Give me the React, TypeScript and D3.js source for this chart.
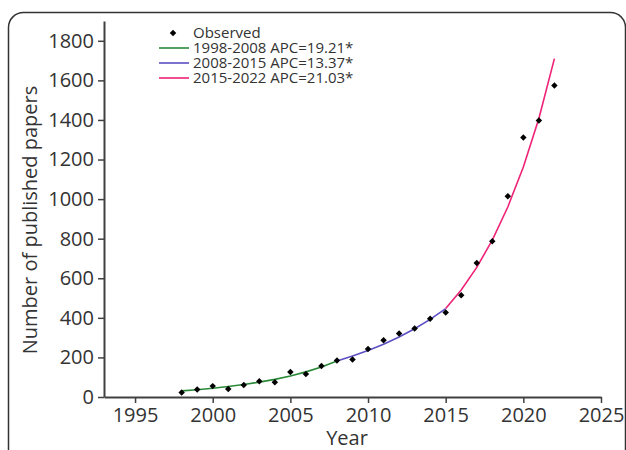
import React, { useRef, useEffect } from 'react';
import * as d3 from 'd3';

// observed counts per year
const years = [1998, 1999, 2000, 2001, 2002, 2003, 2004, 2005, 2006, 2007, 2008, 2009, 2010,
  2011, 2012, 2013, 2014, 2015, 2016, 2017, 2018, 2019, 2020, 2021, 2022];
const observed = [23, 38, 55, 41, 61, 80, 75, 126, 116, 157, 185, 190, 243,
  287, 321, 346, 395, 427, 514, 677, 787, 1015, 1311, 1397, 1574];

// joinpoint segments (fitted values)
const seg1Years = [1998, 1999, 2000, 2001, 2002, 2003, 2004, 2005, 2006, 2007, 2008];
const seg1Fit = [31, 37, 44, 53, 63, 75, 89, 106, 127, 152, 182];
const seg2Years = [2008, 2009, 2010, 2011, 2012, 2013, 2014, 2015];
const seg2Fit = [182, 207, 235, 267, 303, 345, 392, 447];
const seg3Years = [2015, 2016, 2017, 2018, 2019, 2020, 2021, 2022];
const seg3Fit = [447, 541, 655, 793, 960, 1162, 1407, 1710];

const segLabels = ['1998-2008 APC=19.21*', '2008-2015 APC=13.37*', '2015-2022 APC=21.03*'];
const segColors = ['#2a8a3a', '#5b4fc4', '#ee2277'];

const xTicks = [1995, 2000, 2005, 2010, 2015, 2020, 2025];
const yTicks = [0, 200, 400, 600, 800, 1000, 1200, 1400, 1600, 1800];

const W = 626;
const H = 450;
const FONT = '"Open Sans", "Noto Sans", sans-serif';

const App = () => {
  const svgRef = useRef(null);

  useEffect(() => {
    document.body.style.margin = '0';
    const svg = d3.select(svgRef.current);
    svg.selectAll('*').remove();

    const x = d3.scaleLinear().domain([1993, 2025]).range([104, 601]);
    const y = d3.scaleLinear().domain([0, 1900]).range([397, 21]);

    // outer frame
    svg.append('rect')
      .attr('x', 8.5).attr('y', 12.5)
      .attr('width', 617).attr('height', 480)
      .attr('rx', 15).attr('ry', 15)
      .attr('fill', 'none')
      .attr('stroke', '#333')
      .attr('stroke-width', 1.5);

    const xAxis = svg.append('g')
      .attr('transform', `translate(0,${y(0)})`)
      .call(d3.axisBottom(x).tickValues(xTicks).tickFormat(d3.format('d')).tickSize(6).tickSizeOuter(0).tickPadding(5));

    const yAxis = svg.append('g')
      .attr('transform', `translate(${x(1993)},0)`)
      .call(d3.axisLeft(y).tickValues(yTicks).tickFormat(d3.format('d')).tickSize(6).tickSizeOuter(0).tickPadding(4));

    [xAxis, yAxis].forEach(g => {
      g.select('.domain').attr('stroke', '#404040').attr('stroke-width', 2);
      g.selectAll('.tick line').attr('stroke', '#404040').attr('stroke-width', 1.5);
      g.selectAll('.tick text')
        .attr('fill', '#333')
        .style('font-family', FONT)
        .style('font-size', '20px');
    });

    // axis titles
    svg.append('text')
      .attr('x', 347).attr('y', 445)
      .attr('text-anchor', 'middle')
      .attr('fill', '#333')
      .style('font-family', FONT)
      .style('font-size', '20px')
      .text('Year');

    svg.append('text')
      .attr('transform', `translate(37,220) rotate(-90)`)
      .attr('text-anchor', 'middle')
      .attr('fill', '#333')
      .style('font-family', FONT)
      .style('font-size', '20px')
      .text('Number of published papers');

    // fitted segments
    const line = d3.line()
      .x(d => x(d[0]))
      .y(d => y(d[1]));

    const segs = [
      d3.zip(seg1Years, seg1Fit),
      d3.zip(seg2Years, seg2Fit),
      d3.zip(seg3Years, seg3Fit),
    ];

    segs.forEach((s, i) => {
      svg.append('path')
        .datum(s)
        .attr('fill', 'none')
        .attr('stroke', segColors[i])
        .attr('stroke-width', 1.6)
        .attr('d', line);
    });

    // observed points
    const diamond = d3.symbol().type(d3.symbolSquare).size(21);
    svg.selectAll('.pt')
      .data(d3.zip(years, observed))
      .enter().append('path')
      .attr('class', 'pt')
      .attr('d', diamond)
      .attr('transform', d => `translate(${x(d[0])},${y(d[1])}) rotate(45)`)
      .attr('fill', '#000');

    // legend
    const lg = svg.append('g');
    lg.append('path')
      .attr('d', diamond)
      .attr('transform', 'translate(173,33) rotate(45)')
      .attr('fill', '#000');
    lg.append('text')
      .attr('x', 193).attr('y', 33)
      .attr('dy', '0.35em')
      .attr('fill', '#333')
      .style('font-family', FONT)
      .style('font-size', '15px')
      .text('Observed');

    segLabels.forEach((t, i) => {
      const ly = 48 + i * 15;
      lg.append('line')
        .attr('x1', 159).attr('x2', 189)
        .attr('y1', ly).attr('y2', ly)
        .attr('stroke', segColors[i])
        .attr('stroke-width', 1.6);
      lg.append('text')
        .attr('x', 193).attr('y', ly)
        .attr('dy', '0.35em')
        .attr('fill', '#333')
        .style('font-family', FONT)
        .style('font-size', '15px')
        .text(t);
    });
  }, []);

  return (
    <svg ref={svgRef} width={W} height={H} style={{ display: 'block' }}>
    </svg>
  );
};

export default App;
